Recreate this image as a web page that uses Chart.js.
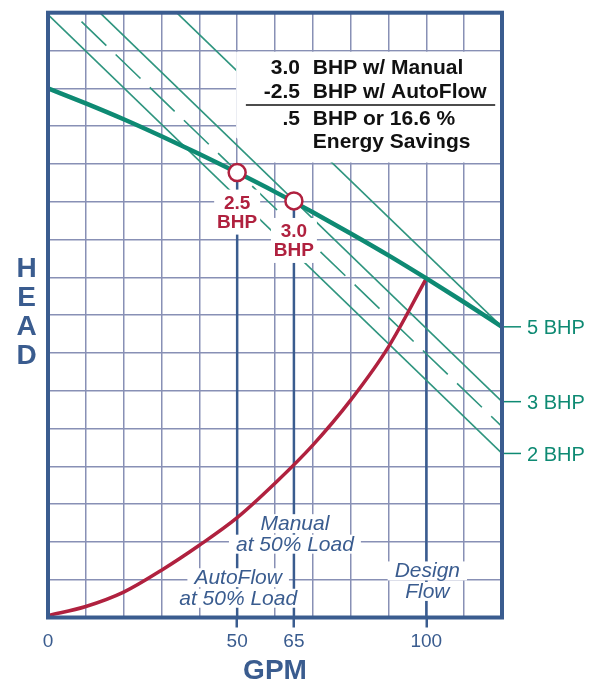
<!DOCTYPE html>
<html lang="en">
<head>
    <meta charset="UTF-8">
    <title>AutoFlow Energy Savings</title>
    <script src="https://cdn.jsdelivr.net/npm/chart.js"></script>
    <style>
        body {
            margin: 0;
            background: #fff;
        }
        #wrap {
            width: 599px;
            height: 685px;
        }
    </style>
</head>
<body>

    <div id="wrap"><canvas id="pumpChart" width="599" height="685"></canvas></div>

    <script>
        // Values: x = flow (GPM), y = head (grid units, 0..16)
        const gridGpm = [0, 10, 20, 30, 40, 50, 60, 70, 80, 90, 100, 110, 120];
        const labelGpm = [0, 50, 65, 100];

        const pumpGpm = [0, 10, 20, 30, 40, 50, 60, 70, 80, 90, 100, 110, 120];
        const pumpHead = [14.0, 13.6, 13.18, 12.73, 12.26, 11.77, 11.26, 10.72, 10.16, 9.58, 8.97, 8.34, 7.69];

        const systemGpm = [0, 10, 20, 30, 40, 50, 60, 70, 80, 90, 100];
        const systemHead = [0.05, 0.29, 0.67, 1.25, 1.91, 2.64, 3.55, 4.56, 5.75, 7.16, 8.97];

        const bhpNames = ['5 BHP', '3 BHP', '2.5 BHP', '2 BHP'];
        const bhpTagged = [true, true, false, true];
        const bhpStartGpm = [34.0, 13.7, 6.4, 0];
        const bhpStartHead = [16, 16, 16, 15.95];
        const bhpEndGpm = [120, 120, 120, 120];
        const bhpEndHead = [7.69, 5.71, 5.05, 4.34];

        const opGpm = [50, 65];
        const opHead = [11.77, 11.02];
        const opBhp = ['2.5', '3.0'];
        const designGpm = 100;
        const designHead = 8.97;

        const savingsNums = ['3.0', '-2.5', '.5', ''];
        const savingsText = ['BHP w/ Manual', 'BHP w/ AutoFlow', 'BHP or 16.6 %', 'Energy Savings'];

        const BLUE = '#3a5c8f';
        const TEAL = '#0e8a73';
        const THIN = '#2f957f';
        const RED = '#b0213f';
        const GRID = '#8890b5';
        const FONT = "'Liberation Sans', Arial, Helvetica, sans-serif";

        // white boxes, notes and side labels drawn over the lines
        const annotations = {
            id: 'annotations',
            afterDatasetsDraw(chart) {
                const { ctx, chartArea } = chart;
                const px = v => chart.scales.x.getPixelForValue(v);
                const py = v => chart.scales.y.getPixelForValue(v);
                ctx.save();

                // savings box
                ctx.fillStyle = '#fff';
                ctx.beginPath();
                ctx.moveTo(px(50) - 1, py(14.97));
                ctx.lineTo(chartArea.right, py(14.97));
                ctx.lineTo(chartArea.right, py(12.04));
                ctx.lineTo(px(57), py(12.04));
                ctx.lineTo(px(50) - 1, py(12.7));
                ctx.closePath();
                ctx.fill();

                ctx.fillStyle = '#111';
                ctx.font = `bold 21px ${FONT}`;
                ctx.textBaseline = 'alphabetic';
                const baseH = [14.38, 13.74, 13.03, 12.41];
                savingsText.forEach((t, i) => {
                    ctx.textAlign = 'right';
                    ctx.fillText(savingsNums[i], px(66.6), py(baseH[i]));
                    ctx.textAlign = 'left';
                    ctx.fillText(t, px(70), py(baseH[i]));
                });
                ctx.strokeStyle = '#111';
                ctx.lineWidth = 1.5;
                ctx.beginPath();
                ctx.moveTo(px(52.3), py(13.56));
                ctx.lineTo(px(118.2), py(13.56));
                ctx.stroke();

                // BHP tags under the operating points
                ctx.font = `bold 19px ${FONT}`;
                ctx.textAlign = 'center';
                opGpm.forEach((g, i) => {
                    const cx = px(g), cy = py(opHead[i]);
                    ctx.fillStyle = '#fff';
                    ctx.fillRect(cx - 23, cy + 17, 46, 45);
                    ctx.fillStyle = RED;
                    ctx.fillText(opBhp[i], cx, cy + 36);
                    ctx.fillText('BHP', cx, cy + 55.5);
                });

                // italic notes near the bottom
                const notes = [
                    { gpm: 65, head: 2.31, lines: ['Manual', 'at 50% Load'] },
                    { gpm: 50, head: 0.88, lines: ['AutoFlow', 'at 50% Load'] },
                    { gpm: 100, head: 1.06, lines: ['Design', 'Flow'] }
                ];
                ctx.font = `italic 21px ${FONT}`;
                notes.forEach(n => {
                    n.lines.forEach((t, i) => {
                        const cx = px(n.gpm) + 1;
                        const base = py(n.head) + i * 20.5;
                        const w = ctx.measureText(t).width;
                        ctx.fillStyle = '#fff';
                        ctx.fillRect(cx - w / 2 - 7, base - 16, w + 14, 19);
                        ctx.fillStyle = BLUE;
                        ctx.fillText(t, cx, base);
                    });
                });

                // right-hand BHP labels
                ctx.font = `20px ${FONT}`;
                ctx.textAlign = 'left';
                ctx.strokeStyle = TEAL;
                ctx.fillStyle = TEAL;
                ctx.lineWidth = 1.5;
                bhpNames.forEach((name, i) => {
                    if (!bhpTagged[i]) return;
                    const ly = py(bhpEndHead[i]);
                    ctx.beginPath();
                    ctx.moveTo(chartArea.right, ly);
                    ctx.lineTo(chartArea.right + 19, ly);
                    ctx.stroke();
                    ctx.fillText(name, chartArea.right + 25, ly + 7.5);
                });
                ctx.restore();
            },
            afterDraw(chart) {
                const { ctx, chartArea: a } = chart;
                ctx.save();
                ctx.strokeStyle = BLUE;
                ctx.lineWidth = 4;
                ctx.strokeRect(a.left, a.top, a.right - a.left, a.bottom - a.top);

                // stacked axis title
                ctx.fillStyle = BLUE;
                ctx.font = `bold 28px ${FONT}`;
                ctx.textAlign = 'center';
                ['H', 'E', 'A', 'D'].forEach((c, i) => ctx.fillText(c, 26.7, 277 + i * 29));
                ctx.restore();
            }
        };

        const datasets = [];

        // operating / design drop lines
        opGpm.forEach((g, i) => {
            datasets.push({
                data: [{ x: g, y: opHead[i] }, { x: g, y: 0 }],
                borderColor: BLUE, borderWidth: 2.5, pointRadius: 0, order: 5
            });
        });
        datasets.push({
            data: [{ x: designGpm, y: designHead }, { x: designGpm, y: 0 }],
            borderColor: BLUE, borderWidth: 2.5, pointRadius: 0, order: 5
        });

        // constant BHP lines
        bhpNames.forEach((name, i) => {
            datasets.push({
                label: name,
                data: [{ x: bhpStartGpm[i], y: bhpStartHead[i] }, { x: bhpEndGpm[i], y: bhpEndHead[i] }],
                borderColor: THIN,
                borderWidth: 1.6,
                borderDash: bhpTagged[i] ? [] : [34.5, 12.9],
                borderDashOffset: bhpTagged[i] ? 0 : 34.5,
                pointRadius: 0,
                order: 4
            });
        });

        // system curve
        datasets.push({
            label: 'System',
            data: systemGpm.map((g, i) => ({ x: g, y: systemHead[i] })),
            borderColor: RED, borderWidth: 3.5, pointRadius: 0,
            cubicInterpolationMode: 'monotone', order: 3
        });

        // pump curve
        datasets.push({
            label: 'Pump',
            data: pumpGpm.map((g, i) => ({ x: g, y: pumpHead[i] })),
            borderColor: TEAL, borderWidth: 4.5, pointRadius: 0,
            cubicInterpolationMode: 'monotone', order: 2
        });

        // operating points
        datasets.push({
            label: 'Operating points',
            data: opGpm.map((g, i) => ({ x: g, y: opHead[i] })),
            showLine: false,
            pointRadius: 8.5,
            pointBackgroundColor: '#fff',
            pointBorderColor: RED,
            pointBorderWidth: 2.5,
            order: 1
        });

        new Chart(document.getElementById('pumpChart'), {
            type: 'line',
            data: { datasets },
            options: {
                responsive: false,
                animation: false,
                events: [],
                layout: { padding: { left: 48, right: 97, top: 12.7, bottom: 0 } },
                plugins: { legend: { display: false }, tooltip: { enabled: false } },
                scales: {
                    x: {
                        type: 'linear',
                        min: 0,
                        max: 120,
                        afterBuildTicks: s => {
                            s.ticks = gridGpm.concat([65]).sort((a, b) => a - b).map(v => ({ value: v }));
                        },
                        afterFit: s => { s.height = 67.5; },
                        grid: {
                            color: c => (c.tick && c.tick.value === 65) ? 'transparent' : GRID,
                            lineWidth: 1.5,
                            drawTicks: true,
                            tickLength: 10,
                            tickWidth: 2.5,
                            tickColor: c => (c.tick && c.tick.value > 0 && labelGpm.includes(c.tick.value)) ? BLUE : 'transparent'
                        },
                        border: { display: false },
                        ticks: {
                            autoSkip: false,
                            maxRotation: 0,
                            padding: 3,
                            color: BLUE,
                            font: { family: FONT, size: 19 },
                            callback: v => labelGpm.includes(v) ? String(v) : ''
                        },
                        title: {
                            display: true,
                            text: 'GPM',
                            color: BLUE,
                            font: { family: FONT, size: 28, weight: 'bold', lineHeight: 0.95 },
                            padding: 0
                        }
                    },
                    y: {
                        min: 0,
                        max: 16,
                        afterFit: s => { s.width = 0; },
                        ticks: { display: false, stepSize: 1 },
                        grid: { color: GRID, lineWidth: 1.5, drawTicks: false },
                        border: { display: false }
                    }
                }
            },
            plugins: [annotations]
        });
    </script>

</body>
</html>
